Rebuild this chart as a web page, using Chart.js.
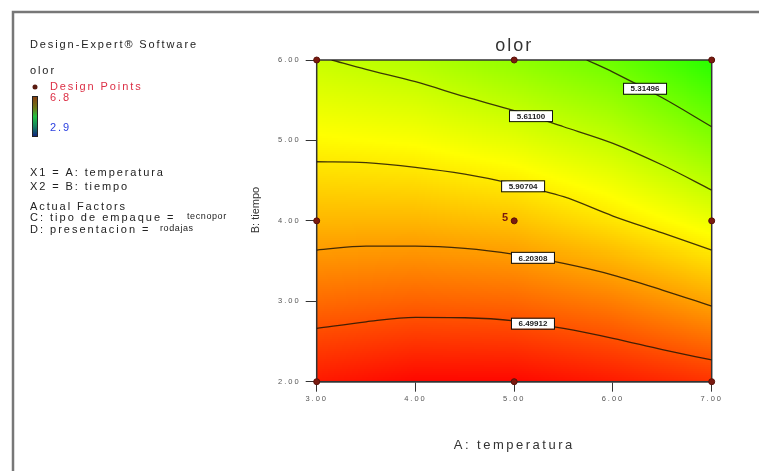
<!DOCTYPE html>
<html>
<head>
<meta charset="utf-8">
<script src="https://cdn.jsdelivr.net/npm/chart.js@4.4.0/dist/chart.umd.min.js"></script>
<style>
html,body{margin:0;padding:0;background:#fff;}
#wrap{width:759px;height:471px;position:relative;}
</style>
</head>
<body>
<div id="wrap"><canvas id="olorChart" width="759" height="471"></canvas></div>
<script>
// ==========================================
// Datos: olor vs temperatura / tiempo
// ==========================================

const temperatura = [3, 4, 5, 6, 7];
const tiempo = [2, 3, 4, 5, 6];

// respuesta estimada, una fila por valor de tiempo
const olorFila2 = [6.711, 6.780, 6.779, 6.710, 6.618];
const olorFila3 = [6.397, 6.432, 6.412, 6.326, 6.178];
const olorFila4 = [6.105, 6.108, 6.062, 5.931, 5.763];
const olorFila5 = [5.847, 5.814, 5.731, 5.599, 5.379];
const olorFila6 = [5.619, 5.541, 5.410, 5.266, 5.008];
const olorGrid = [olorFila2, olorFila3, olorFila4, olorFila5, olorFila6];

const olorMin = 2.9;
const olorMax = 6.8;

// curvas de nivel
const niveles = [6.49912, 6.20308, 5.90704, 5.61100, 5.31496];

const xCurva1 = [3, 3.5, 4, 4.5, 5, 5.5, 6, 6.5, 7];
const yCurva1 = [2.663, 2.745, 2.800, 2.795, 2.757, 2.663, 2.540, 2.400, 2.270];
const xCurva2 = [3, 3.5, 4, 4.5, 5, 5.5, 6, 6.5, 7];
const yCurva2 = [3.637, 3.686, 3.686, 3.657, 3.583, 3.470, 3.326, 3.140, 2.940];
const xCurva3 = [3, 3.5, 4, 4.5, 5, 5.5, 6, 6.5, 7];
const yCurva3 = [4.735, 4.723, 4.665, 4.580, 4.458, 4.300, 4.060, 3.850, 3.637];
const xCurva4 = [3.152, 3.5, 4, 4.5, 5, 5.5, 6, 6.5, 7];
const yCurva4 = [6.000, 5.884, 5.730, 5.544, 5.370, 5.170, 4.964, 4.694, 4.383];
const xCurva5 = [5.734, 6, 6.5, 7];
const yCurva5 = [6.000, 5.850, 5.530, 5.170];

const xCurvas = [xCurva1, xCurva2, xCurva3, xCurva4, xCurva5];
const yCurvas = [yCurva1, yCurva2, yCurva3, yCurva4, yCurva5];

// temperatura donde va la etiqueta de cada curva
const xEtiquetas = [5.19, 5.19, 5.09, 5.17, 6.325];

// puntos del diseño
const disenoX = [3, 5, 7, 3, 5, 7, 3, 5, 7];
const disenoY = [2, 2, 2, 4, 4, 4, 6, 6, 6];
const replicasCentro = "5";

const ticksX = [3, 4, 5, 6, 7];
const ticksY = [2, 3, 4, 5, 6];

// ==========================================
// Escala de color
// ==========================================

const paradas = [
    [2.9, [0, 0, 255]],
    [3.875, [0, 255, 255]],
    [4.85, [0, 255, 0]],
    [5.825, [255, 255, 0]],
    [6.8, [255, 0, 0]]
];

function colorOlor(v){
    if(v <= paradas[0][0]) return "rgb(" + paradas[0][1].join(",") + ")";
    for(let i = 1; i < paradas.length; i++){
        if(v <= paradas[i][0]){
            const a = paradas[i-1], b = paradas[i];
            const t = (v - a[0]) / (b[0] - a[0]);
            const c = a[1].map((k, j) => Math.round(k + (b[1][j] - k) * t));
            return "rgb(" + c.join(",") + ")";
        }
    }
    return "rgb(" + paradas[paradas.length-1][1].join(",") + ")";
}

function olorEn(a, b){
    let i = Math.min(Math.floor(a - temperatura[0]), temperatura.length - 2);
    let j = Math.min(Math.floor(b - tiempo[0]), tiempo.length - 2);
    i = Math.max(i, 0); j = Math.max(j, 0);
    const u = (a - temperatura[i]) / (temperatura[i+1] - temperatura[i]);
    const w = (b - tiempo[j]) / (tiempo[j+1] - tiempo[j]);
    const z00 = olorGrid[j][i], z10 = olorGrid[j][i+1];
    const z01 = olorGrid[j+1][i], z11 = olorGrid[j+1][i+1];
    return z00*(1-u)*(1-w) + z10*u*(1-w) + z01*(1-u)*w + z11*u*w;
}

// ==========================================
// Plugins de dibujo
// ==========================================

const fondoContorno = {
    id: "fondoContorno",
    beforeDraw(chart){
        chart.ctx.letterSpacing = "2px";
    },
    beforeDatasetsDraw(chart){
        const {ctx, chartArea, scales:{x, y}} = chart;
        ctx.save();
        ctx.beginPath();
        ctx.rect(chartArea.left, chartArea.top, chartArea.width, chartArea.height);
        ctx.clip();
        const dx = 0.02, dy = 0.025;
        for(let a = temperatura[0]; a < temperatura[temperatura.length-1]; a += dx){
            const x0 = x.getPixelForValue(a), x1 = x.getPixelForValue(a + dx);
            for(let b = tiempo[0]; b < tiempo[tiempo.length-1]; b += dy){
                const y0 = y.getPixelForValue(b + dy), y1 = y.getPixelForValue(b);
                ctx.fillStyle = colorOlor(olorEn(a + dx/2, b + dy/2));
                ctx.fillRect(Math.floor(x0), Math.floor(y0), Math.ceil(x1 - x0) + 1, Math.ceil(y1 - y0) + 1);
            }
        }
        ctx.restore();

        ctx.save();
        ctx.strokeStyle = "#333";
        ctx.lineWidth = 1.5;
        ctx.strokeRect(chartArea.left, chartArea.top, chartArea.width, chartArea.height);
        ctx.restore();
    },
    afterDatasetsDraw(chart){
        const {ctx, scales:{x, y}} = chart;
        ctx.save();
        ctx.letterSpacing = "0px";
        ctx.font = "bold 8px 'Liberation Sans', Arial, sans-serif";
        ctx.textAlign = "center";
        ctx.textBaseline = "middle";
        niveles.forEach((nivel, k) => {
            const xs = xCurvas[k], ys = yCurvas[k];
            const xe = xEtiquetas[k];
            let ye = ys[ys.length-1];
            for(let i = 1; i < xs.length; i++){
                if(xe <= xs[i]){
                    const t = (xe - xs[i-1]) / (xs[i] - xs[i-1]);
                    ye = ys[i-1] + (ys[i] - ys[i-1]) * t;
                    break;
                }
            }
            const px = x.getPixelForValue(xe), py = y.getPixelForValue(ye);
            ctx.fillStyle = "#fff";
            ctx.fillRect(px - 21, py - 5, 42, 10);
            ctx.strokeStyle = "#111";
            ctx.lineWidth = 1;
            ctx.strokeRect(px - 21.5, py - 5.5, 43, 11);
            ctx.fillStyle = "#222";
            ctx.fillText(nivel.toFixed(5), px, py + 0.5);
        });

        // replicas del punto central
        ctx.font = "bold 11px 'Liberation Sans', Arial, sans-serif";
        ctx.fillStyle = "#7a1a10";
        ctx.textAlign = "right";
        ctx.fillText(replicasCentro, x.getPixelForValue(5) - 6, y.getPixelForValue(4) - 3);
        ctx.restore();
    },
    afterDraw(chart){
        const {ctx, chartArea} = chart;
        ctx.save();
        ctx.textBaseline = "middle";
        ctx.textAlign = "left";

        // marco exterior
        ctx.strokeStyle = "#777";
        ctx.lineWidth = 2.5;
        ctx.beginPath();
        ctx.moveTo(13, 471);
        ctx.lineTo(13, 12);
        ctx.lineTo(759, 12);
        ctx.stroke();

        // titulo
        ctx.fillStyle = "#333";
        ctx.textAlign = "center";
        ctx.font = "18px 'Liberation Sans', Arial, sans-serif";
        ctx.letterSpacing = "2px";
        ctx.fillText("olor", (chartArea.left + chartArea.right) / 2, 46);

        // titulos de ejes
        ctx.font = "13px 'Liberation Sans', Arial, sans-serif";
        ctx.letterSpacing = "2.5px";
        ctx.fillText("A: temperatura", (chartArea.left + chartArea.right) / 2, 445);
        ctx.save();
        ctx.translate(256, 210);
        ctx.rotate(-Math.PI / 2);
        ctx.font = "11px 'Liberation Sans', Arial, sans-serif";
        ctx.letterSpacing = "0px";
        ctx.fillText("B: tiempo", 0, 0);
        ctx.restore();

        // panel izquierdo
        ctx.textAlign = "left";
        ctx.fillStyle = "#222";
        ctx.font = "11px 'Liberation Sans', Arial, sans-serif";
        ctx.letterSpacing = "1.9px";
        ctx.fillText("Design-Expert\u00ae Software", 30, 45);
        ctx.fillText("olor", 30, 71);

        ctx.fillStyle = "#5a1a10";
        ctx.beginPath();
        ctx.arc(35, 87, 2.5, 0, Math.PI * 2);
        ctx.fill();
        ctx.fillStyle = "#dc2f45";
        ctx.fillText("Design Points", 50, 87);
        ctx.fillText(olorMax.toFixed(1), 50, 98);
        ctx.fillStyle = "#2a3fe0";
        ctx.fillText(olorMin.toFixed(1), 50, 128);

        const g = ctx.createLinearGradient(0, 96, 0, 137);
        g.addColorStop(0, "#8a3a10");
        g.addColorStop(0.3, "#6a7a18");
        g.addColorStop(0.5, "#22c040");
        g.addColorStop(0.75, "#148060");
        g.addColorStop(1, "#101a80");
        ctx.fillStyle = g;
        ctx.fillRect(32, 96, 6, 41);
        ctx.strokeStyle = "#222";
        ctx.lineWidth = 1;
        ctx.strokeRect(32.5, 96.5, 5, 40);

        ctx.fillStyle = "#222";
        ctx.fillText("X1 = A: temperatura", 30, 173);
        ctx.fillText("X2 = B: tiempo", 30, 187);
        ctx.fillText("Actual Factors", 30, 207);
        ctx.letterSpacing = "2px";
        ctx.fillText("C: tipo de empaque =", 30, 218);
        ctx.fillText("D: presentacion =", 30, 230);
        ctx.font = "9px 'Liberation Sans', Arial, sans-serif";
        ctx.letterSpacing = "0.6px";
        ctx.fillText("tecnopor", 187, 217);
        ctx.fillText("rodajas", 160, 229);
        ctx.restore();
        ctx.letterSpacing = "0px";
    }
};

// ==========================================
// Grafico
// ==========================================

const curvas = niveles.map((nivel, k) => ({
    label: nivel.toFixed(5),
    data: xCurvas[k].map((v, i) => ({x: v, y: yCurvas[k][i]})),
    showLine: true,
    borderColor: "rgba(35,22,5,0.85)",
    borderWidth: 1.3,
    pointRadius: 0,
    cubicInterpolationMode: "monotone",
    fill: false
}));

const diseno = {
    label: "Design Points",
    data: disenoX.map((v, i) => ({x: v, y: disenoY[i]})),
    pointRadius: 3,
    pointBackgroundColor: "#7a1a10",
    pointBorderColor: "#5a1008",
    pointBorderWidth: 1,
    clip: 8
};

const ctx = document.getElementById("olorChart").getContext("2d");

new Chart(ctx, {
    type: "scatter",
    data: {datasets: [...curvas, diseno]},
    options: {
        responsive: false,
        animation: false,
        layout: {padding: {left: 256.7, right: 47.3, top: 60, bottom: 27.3}},
        plugins: {legend: {display: false}, tooltip: {enabled: false}},
        scales: {
            x: {
                type: "linear",
                min: 3, max: 7,
                afterFit(s){ s.height = 62; },
                afterBuildTicks(s){ s.ticks = ticksX.map(v => ({value: v})); },
                grid: {drawOnChartArea: false, drawTicks: true, tickLength: 10, color: "#333", lineWidth: 1},
                border: {display: true, color: "#333", width: 1.5},
                ticks: {
                    padding: 3,
                    color: "#555",
                    font: {size: 7.5, family: "'Liberation Sans', Arial, sans-serif"},
                    callback: v => Number(v).toFixed(2)
                }
            },
            y: {
                type: "linear",
                min: 2, max: 6,
                afterFit(s){ s.width = 60; },
                afterBuildTicks(s){ s.ticks = ticksY.map(v => ({value: v})); },
                grid: {drawOnChartArea: false, drawTicks: true, tickLength: 11, color: "#333", lineWidth: 1},
                border: {display: true, color: "#333", width: 1.5},
                ticks: {
                    padding: 5,
                    color: "#555",
                    font: {size: 7.5, family: "'Liberation Sans', Arial, sans-serif"},
                    callback: v => Number(v).toFixed(2)
                }
            }
        }
    },
    plugins: [fondoContorno]
});
</script>
</body>
</html>
